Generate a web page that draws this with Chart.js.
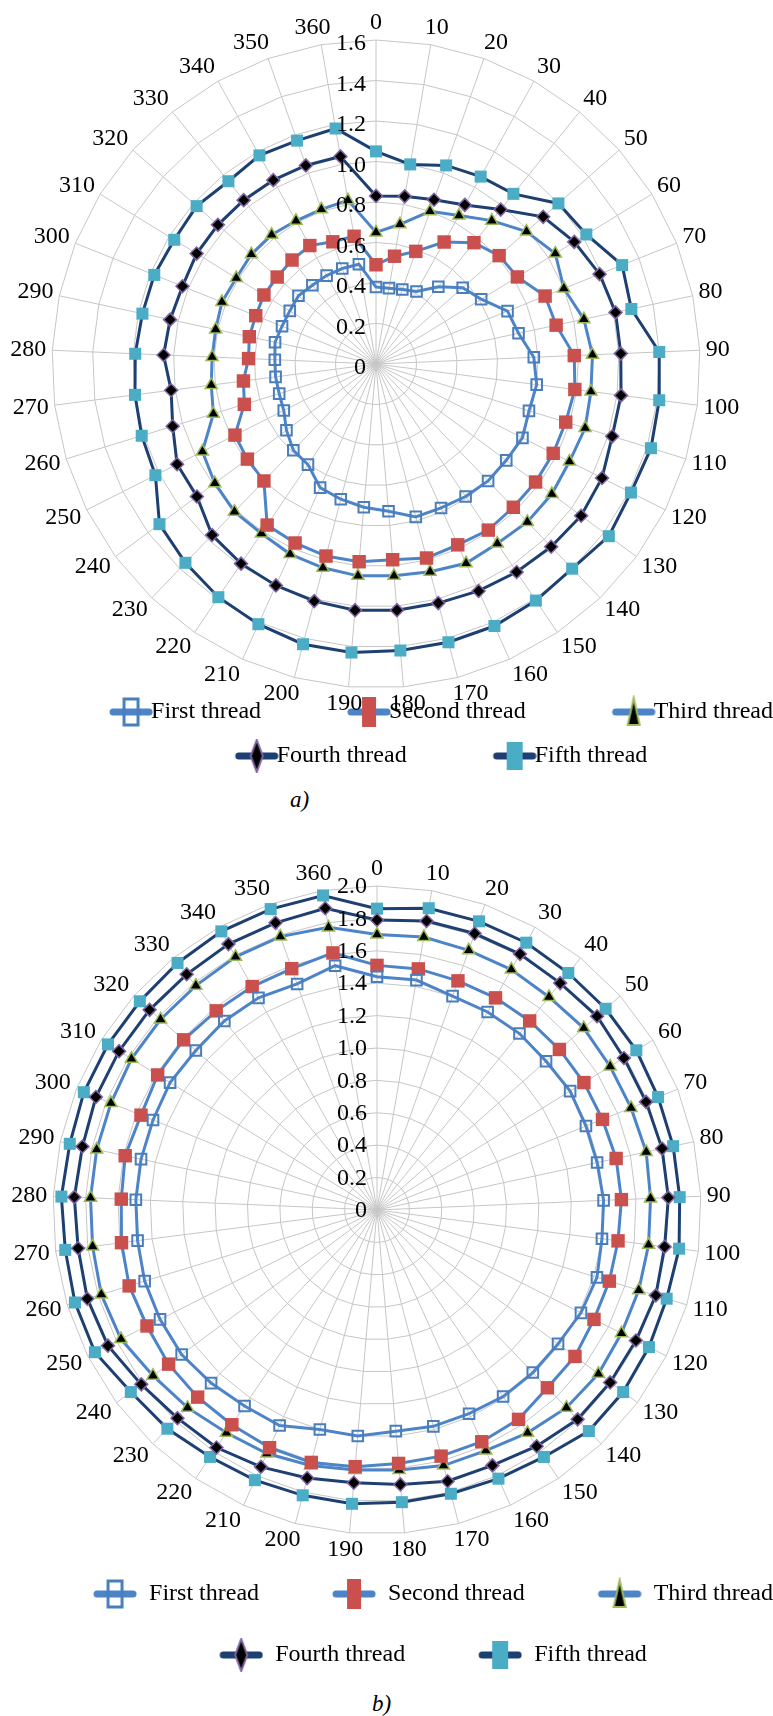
<!DOCTYPE html>
<html>
<head>
<meta charset="utf-8">
<script src="https://cdn.jsdelivr.net/npm/chart.js@4.4.1/dist/chart.umd.min.js"></script>
<style>
  html, body { margin: 0; padding: 0; background: #fff; overflow: hidden; }
  body { width: 773px; height: 1716px; position: relative; }
  canvas { position: absolute; left: 0; }
  #chartA { top: 0; }
  #chartB { top: 840px; }
  .cap { position: absolute; font: italic 23px "Liberation Serif", serif; color: #000; }
</style>
</head>
<body>
<canvas id="chartA" width="816" height="778"></canvas>
<canvas id="chartB" width="830" height="837"></canvas>
<div class="cap" style="left:290px; top:787px">a)</div>
<div class="cap" style="left:372px; top:1691px">b)</div>
<script>
// angle labels round the radar (degrees)
const angleLabels = ['0', '10', '20', '30', '40', '50', '60', '70', '80', '90', '100', '110', '120',
    '130', '140', '150', '160', '170', '180', '190', '200', '210', '220', '230', '240', '250',
    '260', '270', '280', '290', '300', '310', '320', '330', '340', '350', '360'];

const seriesNames = ['First thread', 'Second thread', 'Third thread', 'Fourth thread', 'Fifth thread'];

// chart a)
const firstA = [0.38, 0.38, 0.39, 0.41, 0.49, 0.57, 0.61, 0.70, 0.72, 0.78, 0.80, 0.79, 0.81, 0.80, 0.80, 0.79, 0.78, 0.78, 0.73,
    0.71, 0.69, 0.67, 0.60, 0.59, 0.55, 0.51, 0.50, 0.50, 0.50, 0.51, 0.50, 0.50, 0.51, 0.50, 0.50, 0.50, 0.50];
const secondA = [0.49, 0.54, 0.59, 0.69, 0.77, 0.81, 0.82, 0.90, 0.91, 0.98, 0.99, 0.98, 0.98, 0.98, 0.98, 0.99, 0.98, 0.99, 0.97,
    0.98, 0.98, 0.97, 0.96, 0.80, 0.79, 0.78, 0.68, 0.66, 0.63, 0.64, 0.64, 0.65, 0.65, 0.66, 0.67, 0.64, 0.64];
const thirdA = [0.65, 0.70, 0.80, 0.84, 0.91, 0.99, 1.04, 1.00, 1.05, 1.07, 1.07, 1.08, 1.07, 1.08, 1.08, 1.07, 1.08, 1.06, 1.05,
    1.05, 1.04, 1.03, 1.01, 1.01, 0.99, 0.96, 0.84, 0.82, 0.81, 0.81, 0.82, 0.81, 0.82, 0.82, 0.81, 0.81, 0.82];
const fourthA = [0.83, 0.84, 0.86, 0.90, 0.98, 1.10, 1.15, 1.19, 1.21, 1.21, 1.22, 1.22, 1.25, 1.26, 1.25, 1.24, 1.23, 1.22, 1.22,
    1.22, 1.21, 1.20, 1.19, 1.17, 1.10, 1.10, 1.05, 1.02, 1.05, 1.04, 1.03, 1.04, 1.04, 1.04, 1.04, 1.04, 1.04];
const fifthA = [1.05, 1.00, 1.04, 1.06, 1.08, 1.20, 1.22, 1.31, 1.29, 1.40, 1.41, 1.42, 1.41, 1.43, 1.40, 1.41, 1.42, 1.42, 1.42,
    1.43, 1.43, 1.41, 1.39, 1.36, 1.33, 1.22, 1.21, 1.20, 1.19, 1.18, 1.18, 1.17, 1.18, 1.16, 1.18, 1.17, 1.18];

// chart b)
const firstB = [1.44, 1.44, 1.40, 1.40, 1.40, 1.39, 1.40, 1.39, 1.39, 1.40, 1.40, 1.42, 1.41, 1.39, 1.39, 1.39, 1.38, 1.38, 1.37,
    1.40, 1.40, 1.46, 1.46, 1.48, 1.50, 1.50, 1.50, 1.49, 1.49, 1.49, 1.49, 1.50, 1.49, 1.50, 1.50, 1.48, 1.53];
const secondB = [1.51, 1.51, 1.50, 1.50, 1.50, 1.50, 1.50, 1.50, 1.51, 1.51, 1.50, 1.50, 1.50, 1.52, 1.52, 1.56, 1.57, 1.57, 1.57,
    1.59, 1.61, 1.61, 1.60, 1.60, 1.60, 1.59, 1.60, 1.59, 1.58, 1.59, 1.57, 1.59, 1.59, 1.58, 1.58, 1.58, 1.61];
const thirdB = [1.70, 1.71, 1.70, 1.70, 1.69, 1.70, 1.69, 1.69, 1.70, 1.69, 1.69, 1.69, 1.69, 1.70, 1.69, 1.66, 1.63, 1.63, 1.61,
    1.61, 1.63, 1.65, 1.66, 1.69, 1.72, 1.77, 1.78, 1.77, 1.77, 1.77, 1.77, 1.78, 1.78, 1.78, 1.79, 1.79, 1.77];
const fourthB = [1.79, 1.81, 1.81, 1.81, 1.80, 1.81, 1.79, 1.79, 1.80, 1.80, 1.79, 1.80, 1.79, 1.79, 1.79, 1.76, 1.73, 1.73, 1.70,
    1.69, 1.71, 1.74, 1.77, 1.78, 1.81, 1.86, 1.87, 1.86, 1.87, 1.86, 1.87, 1.87, 1.87, 1.87, 1.88, 1.88, 1.89];
const fifthB = [1.86, 1.89, 1.89, 1.89, 1.88, 1.88, 1.88, 1.87, 1.87, 1.87, 1.88, 1.87, 1.88, 1.89, 1.89, 1.84, 1.82, 1.81, 1.81,
    1.82, 1.82, 1.83, 1.84, 1.87, 1.89, 1.95, 1.95, 1.94, 1.95, 1.94, 1.95, 1.95, 1.95, 1.96, 1.97, 1.97, 1.97];

const SERIF = '"Liberation Serif", "Times New Roman", serif';
const LIGHT_LINE = '#4d84c8';
const DARK_LINE = '#1d3f72';
const FONT_SIZE = 24;

Chart.defaults.font.family = SERIF;
Chart.defaults.color = '#000';

// legend symbol: blank margin on the left, then line with the marker on it.
// overhang lets the symbol reach past the legend box, closer to the text
function legendIcon(boxWidth, overhang, lineColor, marker) {
    const c = document.createElement('canvas');
    c.width = boxWidth + 2 * overhang;
    c.height = 34;
    const g = c.getContext('2d');
    const x0 = c.width - 44;
    const cy = 17;
    g.strokeStyle = lineColor;
    g.lineWidth = 7;
    g.lineCap = 'round';
    g.beginPath();
    g.moveTo(x0 + 4, cy);
    g.lineTo(x0 + 40, cy);
    g.stroke();
    marker(g, x0 + 22, cy);
    return c;
}

function legendIcons(boxWidth, overhang) {
    return [
        legendIcon(boxWidth, overhang, LIGHT_LINE, (g, x, y) => {
            g.strokeStyle = '#4a7ebb';
            g.lineWidth = 3;
            g.strokeRect(x - 7, y - 13, 14, 26);
        }),
        legendIcon(boxWidth, overhang, LIGHT_LINE, (g, x, y) => {
            g.fillStyle = '#c9504c';
            g.fillRect(x - 7, y - 15, 14, 30);
        }),
        legendIcon(boxWidth, overhang, LIGHT_LINE, (g, x, y) => {
            g.beginPath();
            g.moveTo(x, y - 14);
            g.lineTo(x + 6, y + 13);
            g.lineTo(x - 6, y + 13);
            g.closePath();
            g.fillStyle = '#000';
            g.fill();
            g.strokeStyle = '#9bbb59';
            g.lineWidth = 2;
            g.stroke();
        }),
        legendIcon(boxWidth, overhang, DARK_LINE, (g, x, y) => {
            g.beginPath();
            g.moveTo(x, y - 16);
            g.lineTo(x + 6, y);
            g.lineTo(x, y + 16);
            g.lineTo(x - 6, y);
            g.closePath();
            g.fillStyle = '#000';
            g.fill();
            g.strokeStyle = '#8064a2';
            g.lineWidth = 2;
            g.stroke();
        }),
        legendIcon(boxWidth, overhang, DARK_LINE, (g, x, y) => {
            g.fillStyle = '#4bacc6';
            g.fillRect(x - 8, y - 14, 16, 28);
        })
    ];
}

// value labels drawn left of the 0 spoke, right aligned
const tickLabelPlugin = {
    id: 'tickLabels',
    afterDatasetsDraw(chart, args, opts) {
        const scale = chart.scales.r;
        const ctx = chart.ctx;
        ctx.save();
        ctx.font = FONT_SIZE + 'px ' + SERIF;
        ctx.fillStyle = '#000';
        ctx.textAlign = 'right';
        ctx.textBaseline = 'middle';
        scale.ticks.forEach(t => {
            const r = scale.getDistanceFromCenterForValue(t.value);
            const label = t.value === 0 ? '0' : t.value.toFixed(1);
            ctx.fillText(label, scale.xCenter - opts.dx, scale.yCenter - r + opts.dy);
        });
        ctx.restore();
    }
};

// angle labels: box pushed outwards with the spoke direction
const angleLabelPlugin = {
    id: 'angleLabels',
    afterDraw(chart, args, opts) {
        const scale = chart.scales.r;
        const ctx = chart.ctx;
        ctx.save();
        ctx.font = FONT_SIZE + 'px ' + SERIF;
        ctx.fillStyle = '#000';
        ctx.textAlign = 'center';
        ctx.textBaseline = 'middle';
        chart.data.labels.forEach((label, i) => {
            const a = scale.getIndexAngle(i);
            const p = scale.getPointPosition(i, scale.drawingArea + opts.pad);
            const w = ctx.measureText(label).width;
            const sx = Math.sign(Math.sin(a)) * Math.min(1, 2.5 * Math.abs(Math.sin(a)));
            ctx.fillText(label, p.x + sx * w / 2, p.y - Math.cos(a) * opts.h / 2);
        });
        ctx.restore();
    }
};

function buildDatasets(values) {
    const styles = [
        { line: LIGHT_LINE, style: 'rect', radius: 7.5, fill: 'rgba(255,255,255,0)', border: '#4a7ebb', bw: 2 },
        { line: LIGHT_LINE, style: 'rect', radius: 9.5, fill: '#c9504c', border: '#c9504c', bw: 0 },
        { line: LIGHT_LINE, style: 'triangle', radius: 7, fill: '#000', border: '#9bbb59', bw: 1.5 },
        { line: DARK_LINE, style: 'rectRot', radius: 6.5, fill: '#000', border: '#8064a2', bw: 1.5 },
        { line: DARK_LINE, style: 'rect', radius: 8.5, fill: '#4bacc6', border: '#4bacc6', bw: 0 }
    ];
    return values.map((data, i) => ({
        label: seriesNames[i],
        data: data,
        borderColor: styles[i].line,
        borderWidth: 3,
        fill: false,
        clip: false,
        pointStyle: styles[i].style,
        pointRadius: styles[i].radius,
        pointBackgroundColor: styles[i].fill,
        pointBorderColor: styles[i].border,
        pointBorderWidth: styles[i].bw
    }));
}

function makeRadar(id, values, maxValue, center, radius, tickOffset, legend) {
    const icons = legendIcons(legend.box, legend.overhang);
    return new Chart(document.getElementById(id), {
        type: 'radar',
        data: {
            labels: angleLabels,
            datasets: buildDatasets(values)
        },
        plugins: [tickLabelPlugin, angleLabelPlugin],
        options: {
            responsive: false,
            animation: false,
            layout: { padding: 0 },
            elements: { line: { tension: 0 } },
            plugins: {
                tooltip: { enabled: false },
                tickLabels: tickOffset,
                angleLabels: { pad: 6, h: 22 },
                legend: {
                    position: 'bottom',
                    onClick: null,
                    labels: {
                        usePointStyle: true,
                        pointStyleWidth: legend.box,
                        padding: legend.gap,
                        color: '#000',
                        font: { size: FONT_SIZE, family: SERIF },
                        generateLabels: (chart) => chart.data.datasets.map((ds, i) => ({
                            text: ds.label,
                            pointStyle: icons[i],
                            datasetIndex: i,
                            hidden: false,
                            lineWidth: 0,
                            fillStyle: 'transparent',
                            strokeStyle: 'transparent'
                        }))
                    }
                }
            },
            scales: {
                r: {
                    min: 0,
                    max: maxValue,
                    // fixed plot geometry
                    afterSetDimensions: (s) => {
                        s.xCenter = center[0];
                        s.yCenter = center[1];
                        s.drawingArea = radius;
                    },
                    ticks: { display: false, stepSize: 0.2 },
                    grid: { color: '#c6c6c6', lineWidth: 1 },
                    angleLines: { color: '#c6c6c6', lineWidth: 1 },
                    pointLabels: { display: false }
                }
            }
        }
    });
}

makeRadar('chartA', [firstA, secondA, thirdA, fourthA, fifthA], 1.6, [376, 364], 324, { dx: 10, dy: 4 },
    { box: 96, overhang: 14, gap: 20 });
makeRadar('chartB', [firstB, secondB, thirdB, fourthB, fifthB], 2.0, [377, 370], 324, { dx: 10, dy: 1 },
    { box: 80, overhang: 0, gap: 37 });
</script>
</body>
</html>
